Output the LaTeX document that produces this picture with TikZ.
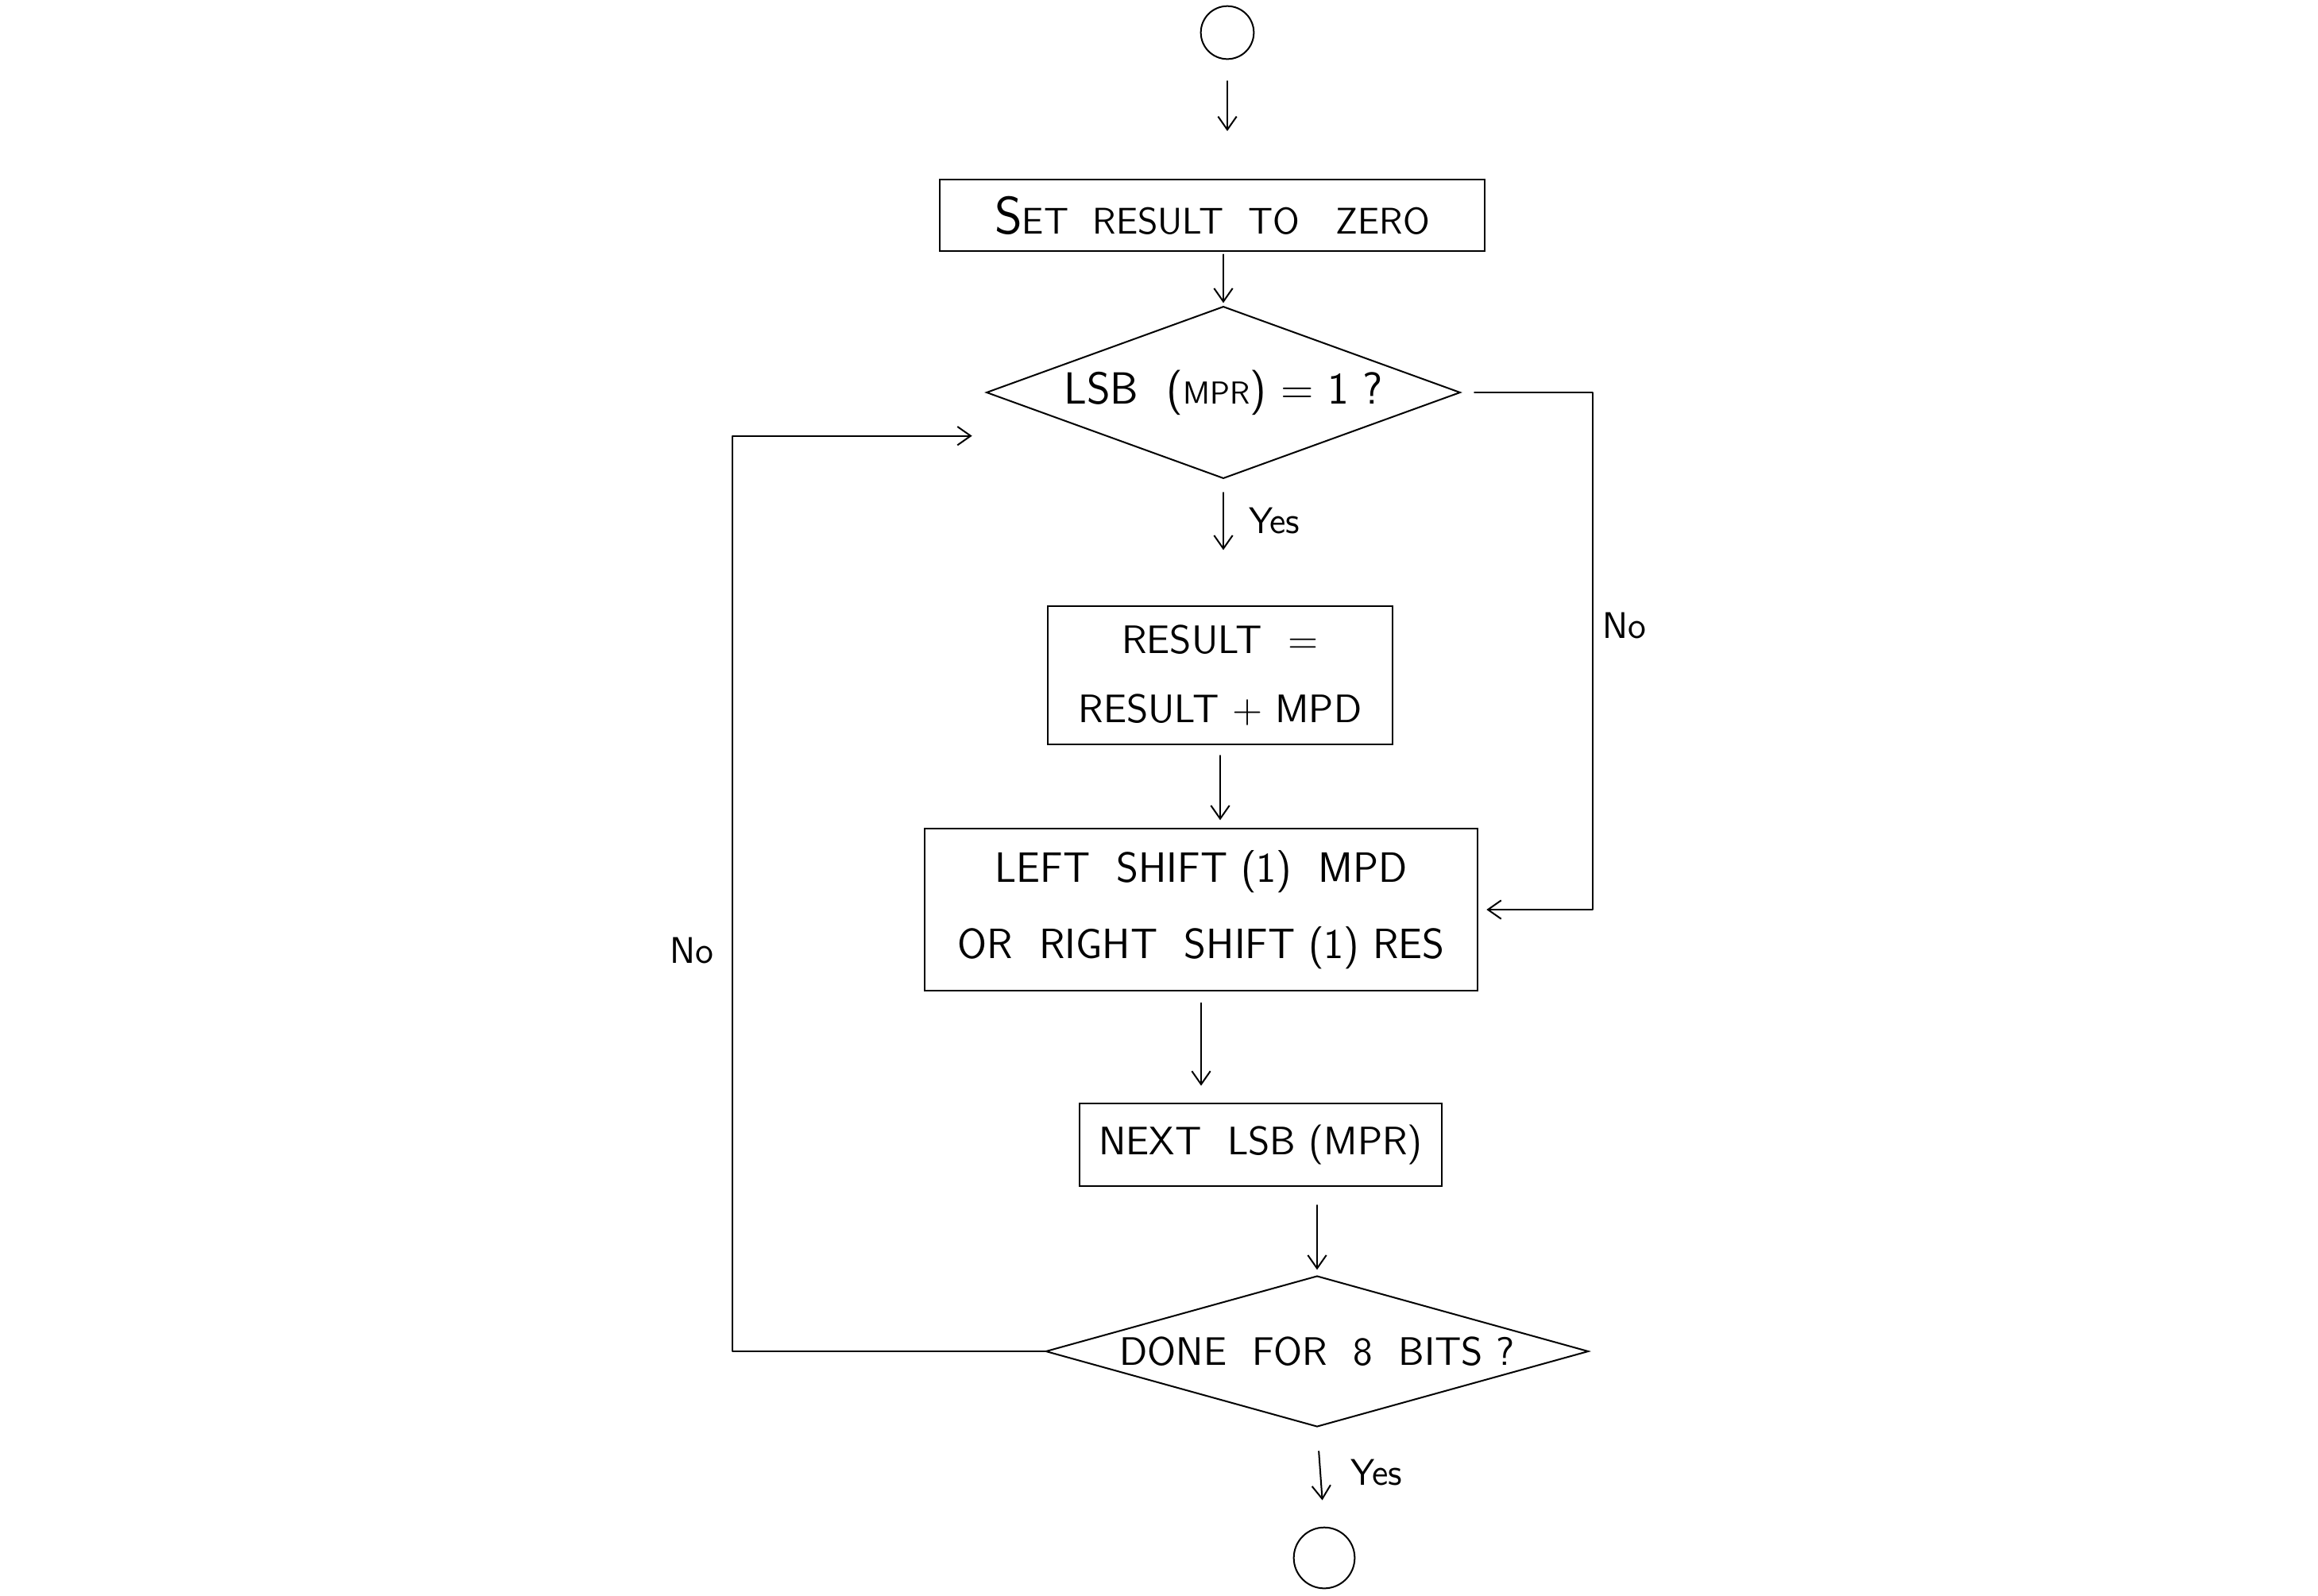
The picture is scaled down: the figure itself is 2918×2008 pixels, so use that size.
\documentclass[tikz,border=0pt]{standalone}
\usepackage{fontspec}
\usetikzlibrary{shapes.geometric,arrows.meta,calc}
\begin{document}
\begin{tikzpicture}[x=0.3pt,y=-0.3pt,
  every node/.style={font=\sffamily\fontsize{17}{20}\selectfont},
  line/.style={line width=0.6pt, line join=round, line cap=round},
  stepbox/.style={draw, line width=0.6pt, rectangle, inner sep=0pt, align=center},
  decision/.style={draw, line width=0.6pt, diamond, inner sep=0pt},
  terminal/.style={draw, line width=0.6pt, circle, inner sep=0pt},
  arr/.style={line, -{Straight Barb[length=5pt,width=7pt]}},
  tag/.style={font=\sffamily\fontsize{14}{16}\selectfont},
  mid/.style={font=\sffamily\fontsize{15}{18}\selectfont}]
\useasboundingbox (0,0) rectangle (2918,2008);

% terminals
\node[terminal, minimum size=20pt] (start) at (1545,41) {};
\node[terminal, minimum size=23pt] (stop) at (1667,1961) {};

% process steps and decisions
\node[stepbox, minimum width=206pt, minimum height=27pt] (zero) at (1526,271)
  {{\fontsize{20}{22}\selectfont S}{\fontsize{14}{16}\selectfont ET\ \ RESULT\ \ TO\ \ \ ZERO}};
\node[decision, aspect=2.74, minimum width=179pt, minimum height=65pt] (lsb) at (1540,494)
  {LSB\ \ ({\fontsize{12}{14}\selectfont MPR}) = 1\ ?};
\node[stepbox, mid, minimum width=130pt, minimum height=52pt] (add) at (1536,850)
  {RESULT\ \ =\\[8pt] RESULT + MPD};
\node[stepbox, font=\sffamily\fontsize{16}{19}\selectfont, minimum width=209pt, minimum height=61pt] (shift) at (1512,1145)
  {LEFT\ \ SHIFT (1)\ \ MPD\\[10pt] OR\ \ RIGHT\ \ SHIFT (1) RES};
\node[stepbox, mid, minimum width=137pt, minimum height=31pt] (next) at (1587,1441)
  {NEXT\ \ LSB\ (MPR)};
\node[decision, aspect=3.6, minimum width=205pt, minimum height=57pt] (done) at (1658,1701)
  {{\fontsize{15}{18}\selectfont DONE\ \ FOR\ \ 8\ \ BITS ?}};

% loop bends
\coordinate (rbend) at (2005,800);
\coordinate (lbend) at (922,1100);

% main flow
\draw[arr, shorten <=8pt, shorten >=18pt] (start.south) -- (start.south |- zero.north);
\draw[arr, shorten <=1pt, shorten >=1pt] (lsb.north |- zero.south) -- (lsb.north);
\draw[arr, shorten <=5pt, shorten >=21pt] (lsb.south) -- (lsb.south |- add.north)
  node[tag, pos=0.33, right=6pt] {Yes};
\draw[arr, shorten <=4pt, shorten >=3pt] (add.south) -- (add.south |- shift.north);
\draw[arr, shorten <=4.5pt, shorten >=6.5pt] (shift.south) -- (shift.south |- next.north);
\draw[arr, shorten <=7pt, shorten >=2pt] (done.north |- next.south) -- (done.north);
\draw[arr, shorten <=9pt, shorten >=10pt] (done.south) -- (stop.north)
  node[tag, pos=0.45, right=8pt] {Yes};

% "No" branches
\draw[arr, shorten <=5pt, shorten >=3pt] (lsb.east) -| (rbend) |- (shift.east);
\node[tag] (noright) at (2045,788) {No};
\draw[arr, shorten >=50pt] (done.west) -| (lbend) |- (lsb.south west);
\node[tag] (noleft) at (871,1197) {No};
\end{tikzpicture}
\end{document}
